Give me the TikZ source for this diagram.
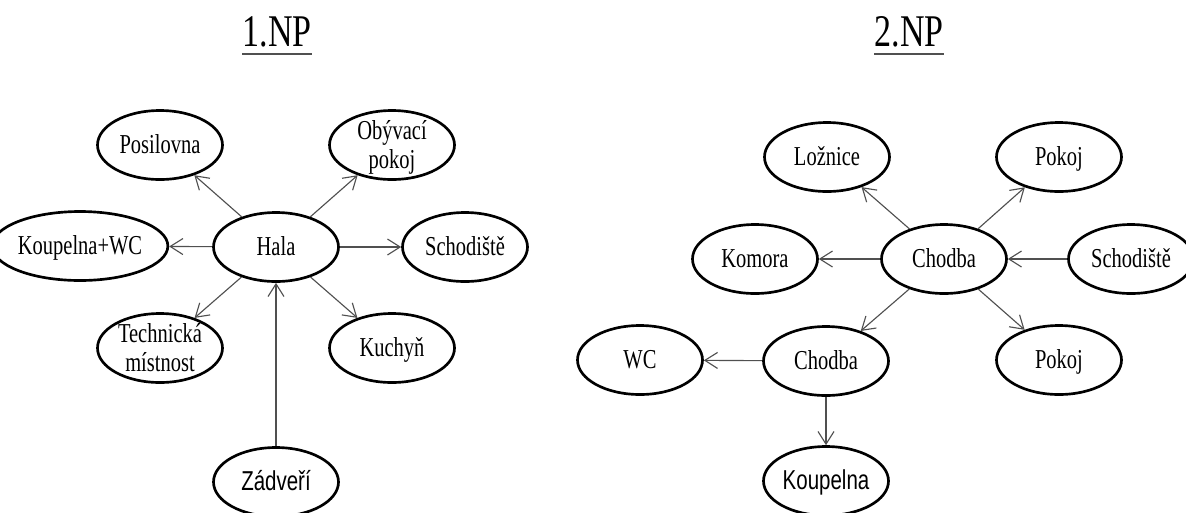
\documentclass[tikz,border=0pt]{standalone}
\usepackage{fontspec}
\setmainfont{Liberation Serif}[FakeStretch=0.75]
\newfontfamily\narrowsans{Liberation Sans}[FakeStretch=0.75]
\usepackage{xcolor}
\usepackage{tikz}
\usetikzlibrary{shapes.geometric,arrows.meta}

\definecolor{linegray}{RGB}{80,80,80}
\newcommand{\twolines}[2]{\smash{\raisebox{-1pt}{\begin{tabular}{@{}c@{}}#1\\#2\end{tabular}}}}

\tikzset{
  room/.style={draw, ellipse, line width=2pt, minimum width=93.75pt, minimum height=51.75pt,
    inner sep=0pt, text height=13.2pt, text depth=0pt, font=\fontsize{20.5}{22}\selectfont},
  flow/.style={draw=linegray, line width=0.85pt, -{Straight Barb[length=9.5pt,width=12pt]}},
  floortitle/.style={inner sep=0pt, font=\fontsize{34}{36}\selectfont},
  titleline/.style={draw=linegray, line width=1.5pt}
}

\begin{document}
\begin{tikzpicture}[x=0.75pt,y=0.75pt,yscale=-1,xscale=1]
\useasboundingbox (0,0) rectangle (1186,512);

% Text Node
\node [floortitle] (np1) at (277,32) {1.NP};
\node [floortitle] (np2) at (909,32) {2.NP};
\draw [titleline] ([yshift=5.5pt]np1.base west) -- ([yshift=5.5pt]np1.base east);
\draw [titleline] ([yshift=5.5pt]np2.base west) -- ([yshift=5.5pt]np2.base east);

%Shape: Ellipse (1.NP)
\node [room] (hala) at (276,247) {Hala};
\node [room] (posilovna) at (160,145) {Posilovna};
\node [room] (obyvaci) at (392,145) {\twolines{Obývací}{pokoj}};
\node [room, minimum width=105pt] (koupelnawc) at (80,246) {Koupelna+WC};
\node [room] (schodiste1) at (465,247) {Schodiště};
\node [room] (technicka) at (160,348) {\twolines{Technická}{místnost}};
\node [room] (kuchyn) at (392,348) {Kuchyň};
\node [room] (zadveri) at (276,482) {\narrowsans Zádveří};

%Shape: Ellipse (2.NP)
\node [room] (chodba1) at (944,259) {Chodba};
\node [room] (loznice) at (827,157) {Ložnice};
\node [room] (pokoj1) at (1059,157) {Pokoj};
\node [room] (komora) at (755,259) {Komora};
\node [room] (schodiste2) at (1131,259) {Schodiště};
\node [room] (chodba2) at (826,361) {Chodba};
\node [room] (wc) at (640,360) {WC};
\node [room] (pokoj2) at (1059,360) {Pokoj};
\node [room] (koupelna) at (826,481) {\narrowsans Koupelna};

%Straight Lines (1.NP)
\draw [flow] (hala) -- (posilovna);
\draw [flow] (hala) -- (obyvaci);
\draw [flow] (hala) -- (koupelnawc);
\draw [flow] (hala) -- (schodiste1);
\draw [flow] (hala) -- (technicka);
\draw [flow] (hala) -- (kuchyn);
\draw [flow] (zadveri) -- (hala);

%Straight Lines (2.NP)
\draw [flow] (chodba1) -- (loznice);
\draw [flow] (chodba1) -- (pokoj1);
\draw [flow] (chodba1) -- (komora);
\draw [flow] (schodiste2) -- (chodba1);
\draw [flow] (chodba1) -- (chodba2);
\draw [flow] (chodba1) -- (pokoj2);
\draw [flow] (chodba2) -- (wc);
\draw [flow] (chodba2) -- (koupelna);
\end{tikzpicture}
\end{document}
